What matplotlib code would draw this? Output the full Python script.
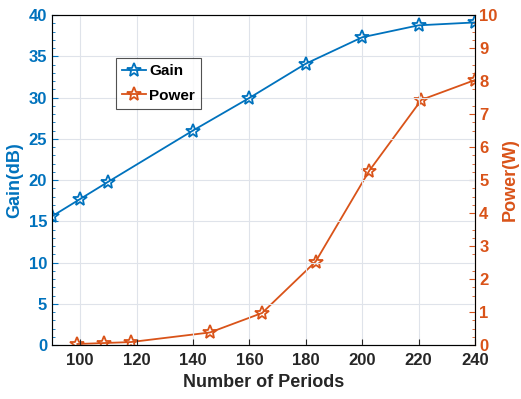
import numpy as np
import matplotlib.pyplot as plt
from matplotlib.ticker import MultipleLocator

plt.rcParams['font.family'] = ['Liberation Sans', 'DejaVu Sans']
plt.rcParams['font.weight'] = 'bold'

blue = '#0072BD'
orange = '#D95319'

# gain vs number of periods
gain_periods = [90, 100, 110, 140, 160, 180, 200, 220, 240]
gain_db = [15.6, 17.7, 19.8, 26.0, 29.95, 34.1, 37.3, 38.75, 39.1]

# output power vs number of periods
power_periods = [99, 108.5, 118, 146, 164.5, 183.5, 202.5, 221, 240]
power_w = [0.03, 0.06, 0.09, 0.38, 0.97, 2.53, 5.28, 7.43, 8.03]

fig = plt.figure(figsize=(5.21, 3.99), dpi=100)
ax = fig.add_axes([0.0998, 0.1353, 0.8119, 0.8271])
ax2 = ax.twinx()

l1, = ax.plot(gain_periods, gain_db, color=blue, lw=1.3, marker='*',
              ms=10, mfc='none', mew=1.3, label='Gain')
l2, = ax2.plot(power_periods, power_w, color=orange, lw=1.3, marker='*',
               ms=10, mfc='none', mew=1.3, label='Power')

ax.set_xlim(90, 240)
ax.set_ylim(0, 40)
ax2.set_ylim(0, 10)
ax.set_xticks(np.arange(100, 241, 20))
ax.set_yticks(np.arange(0, 41, 5))
ax2.set_yticks(np.arange(0, 11, 1))
ax.yaxis.set_minor_locator(MultipleLocator(1))
ax2.yaxis.set_minor_locator(MultipleLocator(0.25))

ax.grid(True, color='#dfe3ea', lw=0.8)
ax.set_axisbelow(True)

for a in (ax, ax2):
    a.tick_params(direction='in', which='both', labelsize=12)
    a.tick_params(which='major', length=4)
    a.tick_params(which='minor', length=2)
ax.tick_params(axis='x', colors='#262626', labelcolor='#262626', pad=6)
ax.tick_params(axis='y', which='both', colors=blue, labelcolor=blue)
ax2.tick_params(axis='y', which='both', colors=orange, labelcolor=orange, pad=3)

for s in ('top', 'bottom'):
    ax2.spines[s].set_color('#262626')
ax2.spines['left'].set_color(blue)
ax2.spines['right'].set_color(orange)

ax.set_xlabel('Number of Periods', fontsize=13, fontweight='bold', color='#262626')
ax.set_ylabel('Gain(dB)', fontsize=13, fontweight='bold', color=blue, labelpad=4)
ax2.set_ylabel('Power(W)', fontsize=13, fontweight='bold', color=orange, labelpad=3)

leg = ax.legend(handles=[l1, l2], loc='upper left', bbox_to_anchor=(0.151, 0.87),
                borderaxespad=0, fontsize=11, frameon=True, fancybox=False,
                edgecolor='#262626', handlelength=1.6, handletextpad=0.2,
                borderpad=0.4, labelspacing=0.7)
leg.get_frame().set_linewidth(0.8)
ax2.set_zorder(ax.get_zorder() - 1)
ax.patch.set_visible(False)

fig.savefig('out.png', dpi=100)
